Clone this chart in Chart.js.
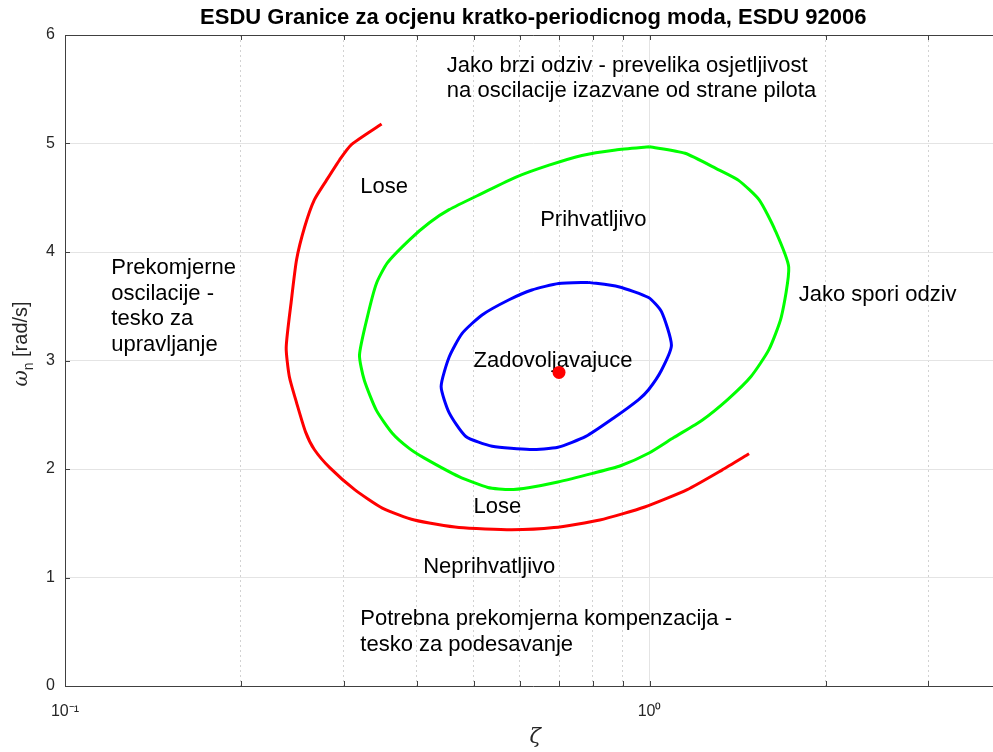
<!DOCTYPE html>
<html>
<head>
<meta charset="utf-8">
<script src="https://cdn.jsdelivr.net/npm/chart.js@4.4.1/dist/chart.umd.min.js"></script>
<style>
html, body { margin: 0; padding: 0; background: #fff; overflow: hidden; }
#wrap { width: 993px; height: 752px; overflow: hidden; }
</style>
</head>
<body>
<div id="wrap"><canvas id="esdu" width="1008" height="752"></canvas></div>
<script>
// granice ocitane sa slike: zeta (log os) i omega_n [rad/s]
var redZeta  = [0.348, 0.309, 0.295, 0.280, 0.267, 0.257, 0.249, 0.244, 0.239, 0.242, 0.249, 0.258, 0.267, 0.284, 0.313, 0.349, 0.396, 0.472, 0.581, 0.686, 0.822, 0.981, 1.16, 1.33, 1.48];
var redOmega = [5.18, 4.99, 4.85, 4.66, 4.48, 4.23, 3.93, 3.56, 3.12, 2.85, 2.61, 2.34, 2.18, 2.01, 1.81, 1.64, 1.53, 1.46, 1.44, 1.46, 1.53, 1.65, 1.81, 1.99, 2.14];

var greenZeta  = [1.00, 0.875, 0.766, 0.673, 0.591, 0.517, 0.454, 0.420, 0.388, 0.356, 0.341, 0.329, 0.319, 0.325, 0.341, 0.363, 0.388, 0.412, 0.472, 0.529, 0.577, 0.624, 0.697, 0.799, 0.892, 1.00, 1.10, 1.23, 1.36, 1.49, 1.60, 1.68, 1.73, 1.64, 1.54, 1.42, 1.31, 1.15, 1.00];
var greenOmega = [4.97, 4.94, 4.89, 4.80, 4.69, 4.54, 4.39, 4.27, 4.11, 3.90, 3.71, 3.40, 3.05, 2.82, 2.54, 2.33, 2.19, 2.10, 1.93, 1.83, 1.81, 1.83, 1.88, 1.96, 2.03, 2.15, 2.29, 2.45, 2.64, 2.85, 3.10, 3.40, 3.86, 4.20, 4.48, 4.66, 4.76, 4.91, 4.97];

var blueZeta  = [0.787, 0.699, 0.629, 0.575, 0.517, 0.478, 0.454, 0.440, 0.454, 0.485, 0.538, 0.624, 0.697, 0.778, 0.868, 0.958, 0.996, 1.048, 1.090, 1.048, 0.996, 0.885, 0.787];
var blueOmega = [3.72, 3.71, 3.65, 3.56, 3.42, 3.25, 3.03, 2.76, 2.52, 2.30, 2.21, 2.18, 2.20, 2.30, 2.47, 2.64, 2.73, 2.91, 3.14, 3.45, 3.58, 3.68, 3.72];

var dotZeta  = [0.70];
var dotOmega = [2.89];

var zetaTicks = [0.1, 0.2, 0.3, 0.4, 0.5, 0.6, 0.7, 0.8, 0.9, 1, 2, 3, 4];
var zetaTickLabels = { 0.1: '10\u207B\u00B9', 1: '10\u2070' };
var omegaTicks = [0, 1, 2, 3, 4, 5, 6];

var noteText = [
    ['Jako brzi odziv - prevelika osjetljivost', 'na oscilacije izazvane od strane pilota'],
    ['Lose'],
    ['Prihvatljivo'],
    ['Zadovoljavajuce'],
    ['Jako spori odziv'],
    ['Prekomjerne', 'oscilacije -', 'tesko za', 'upravljanje'],
    ['Lose'],
    ['Neprihvatljivo'],
    ['Potrebna prekomjerna kompenzacija -', 'tesko za podesavanje']
];
var noteZeta  = [0.45, 0.32, 0.65, 0.50, 1.8, 0.12, 0.50, 0.41, 0.32];
var noteOmega = [5.6, 4.6, 4.3, 3.0, 3.6, 3.5, 1.65, 1.1, 0.5];

var titleText = 'ESDU Granice za ocjenu kratko-periodicnog moda, ESDU 92006';

var FONT = '"Liberation Sans", Arial, Helvetica, sans-serif';
var AXIS = '#404040';

function pts(xs, ys) {
    return xs.map(function(v, i) { return { x: v, y: ys[i] }; });
}
function isMajor(v) { return v === 0.1 || v === 1; }

var matlabLook = {
    id: 'matlabLook',
    beforeDatasetsDraw: function(chart) {
        var ctx = chart.ctx, xs = chart.scales.x, ys = chart.scales.y;
        var gap = 25.5;
        ctx.save();
        ctx.font = '22px ' + FONT;
        ctx.fillStyle = '#000';
        ctx.textAlign = 'left';
        ctx.textBaseline = 'middle';
        noteText.forEach(function(lines, i) {
            var px = xs.getPixelForValue(noteZeta[i]);
            var py = ys.getPixelForValue(noteOmega[i]) - (lines.length - 1) * gap / 2;
            lines.forEach(function(t, k) { ctx.fillText(t, px, py + k * gap); });
        });
        ctx.restore();
    },
    afterDraw: function(chart) {
        var ctx = chart.ctx, a = chart.chartArea, xs = chart.scales.x, ys = chart.scales.y;
        ctx.save();
        ctx.strokeStyle = AXIS;
        ctx.lineWidth = 1;
        // gornja ivica
        ctx.beginPath();
        ctx.moveTo(a.left, a.top + 0.5);
        ctx.lineTo(a.right, a.top + 0.5);
        ctx.stroke();
        // crtice prema unutra
        ctx.beginPath();
        omegaTicks.forEach(function(v) {
            var py = Math.round(ys.getPixelForValue(v)) + 0.5;
            ctx.moveTo(a.left, py);
            ctx.lineTo(a.left + 5, py);
        });
        zetaTicks.forEach(function(v) {
            var px = Math.round(xs.getPixelForValue(v)) + 0.5;
            ctx.moveTo(px, a.bottom);
            ctx.lineTo(px, a.bottom - 5);
            ctx.moveTo(px, a.top);
            ctx.lineTo(px, a.top + 5);
        });
        ctx.stroke();

        var cx = (a.left + a.right) / 2;
        ctx.fillStyle = '#000';
        ctx.textAlign = 'center';
        ctx.textBaseline = 'middle';
        ctx.font = 'bold 22px ' + FONT;
        ctx.fillText(titleText, cx, 18);

        ctx.fillStyle = '#262626';
        ctx.font = 'italic 21px "DejaVu Serif", serif';
        ctx.fillText('\u03B6', cx + 2, 738);

        // omega_n [rad/s]
        var gr = 'italic 20px "DejaVu Serif", serif', big = '20px ' + FONT, small = '14px ' + FONT;
        ctx.font = gr;
        var w1 = ctx.measureText('\u03C9').width;
        ctx.font = small;
        var w2 = ctx.measureText('n').width;
        ctx.font = big;
        var w3 = ctx.measureText(' [rad/s]').width;
        var tot = w1 + w2 + w3;
        ctx.translate(21, 344);
        ctx.rotate(-Math.PI / 2);
        ctx.textAlign = 'left';
        ctx.textBaseline = 'alphabetic';
        var x0 = -tot / 2;
        ctx.font = gr;
        ctx.fillText('\u03C9', x0, 6);
        ctx.font = small;
        ctx.fillText('n', x0 + w1, 12);
        ctx.font = big;
        ctx.fillText(' [rad/s]', x0 + w1 + w2, 6);
        ctx.restore();
    }
};

var lineStyle = { showLine: true, borderWidth: 3, pointRadius: 0, pointHoverRadius: 0, tension: 0.2, fill: false };

new Chart(document.getElementById('esdu'), {
    type: 'scatter',
    data: {
        datasets: [
            Object.assign({ label: 'Lose (granica)', data: pts(redZeta, redOmega), borderColor: '#ff0000' }, lineStyle),
            Object.assign({ label: 'Prihvatljivo', data: pts(greenZeta, greenOmega), borderColor: '#00ff00' }, lineStyle),
            Object.assign({ label: 'Zadovoljavajuce', data: pts(blueZeta, blueOmega), borderColor: '#0000ff' }, lineStyle),
            { label: 'Tacka', data: pts(dotZeta, dotOmega), showLine: false, pointRadius: 6.5, backgroundColor: '#ff0000', borderColor: '#ff0000', borderWidth: 0 }
        ]
    },
    options: {
        responsive: false,
        animation: false,
        devicePixelRatio: 1,
        layout: { padding: { top: 35, left: 0, right: 0, bottom: 0 } },
        plugins: { legend: { display: false }, tooltip: { enabled: false } },
        scales: {
            x: {
                type: 'logarithmic',
                min: 0.1,
                max: 4,
                afterBuildTicks: function(s) {
                    s.ticks = zetaTicks.map(function(v) { return { value: v, major: isMajor(v) }; });
                },
                afterFit: function(s) { s.height = 66; s.paddingLeft = 0; s.paddingRight = 0; },
                ticks: {
                    autoSkip: false, maxRotation: 0, padding: 16, color: '#262626',
                    font: { family: FONT, size: 16 },
                    callback: function(v) { return zetaTickLabels[v] || ''; }
                },
                grid: {
                    drawTicks: false,
                    color: function(c) { return c.tick && !isMajor(c.tick.value) ? '#d2d2d2' : '#e4e4e4'; }
                },
                border: {
                    display: true, color: AXIS, width: 1,
                    dash: function(c) { return c.tick && !isMajor(c.tick.value) ? [2, 3] : []; }
                }
            },
            y: {
                min: 0,
                max: 6,
                afterBuildTicks: function(s) {
                    s.ticks = omegaTicks.map(function(v) { return { value: v }; });
                },
                afterFit: function(s) { s.width = 65; s.paddingTop = 0; s.paddingBottom = 0; },
                ticks: { padding: 10, color: '#262626', font: { family: FONT, size: 16 } },
                grid: { drawTicks: false, color: '#e4e4e4' },
                border: { display: true, color: AXIS, width: 1 }
            }
        }
    },
    plugins: [matlabLook]
});
</script>
</body>
</html>
